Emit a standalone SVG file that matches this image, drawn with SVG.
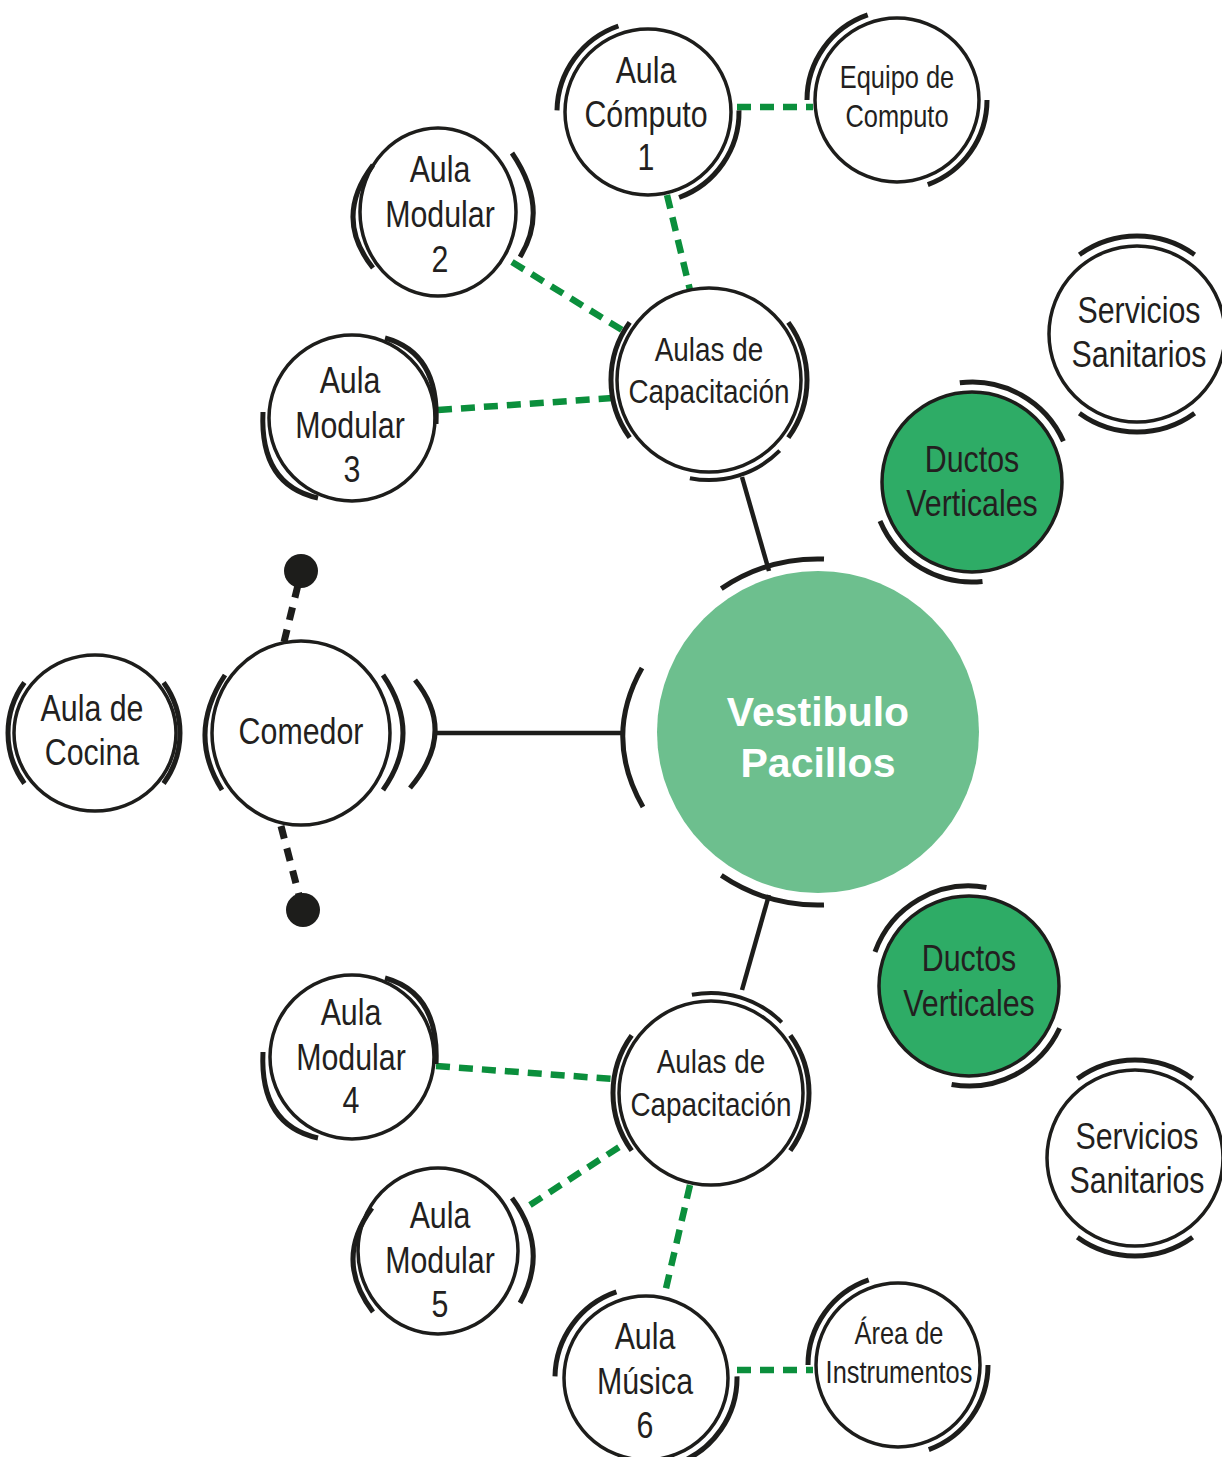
<svg xmlns="http://www.w3.org/2000/svg" width="1222" height="1457" viewBox="0 0 1222 1457">
<style>
.c{fill:#fff;stroke:#1d1d1b;stroke-width:3.5}
.g{fill:#2eac66;stroke:#1d1d1b;stroke-width:3.5}
.a{fill:none;stroke:#1d1d1b;stroke-width:5}
.t{font-family:"Liberation Sans",Arial,sans-serif;font-size:37px;fill:#231f20;text-anchor:middle}
.s{font-size:31px}
.m{font-size:34px}
.v{font-family:"Liberation Sans",Arial,sans-serif;font-weight:bold;font-size:41px;fill:#fff;text-anchor:middle}
.gd{fill:none;stroke:#0b8f3c;stroke-width:6.5;stroke-dasharray:14 9}
.bd{fill:none;stroke:#1d1d1b;stroke-width:7;stroke-dasharray:13 10}
.bl{fill:none;stroke:#1d1d1b;stroke-width:4.5}
</style>
<rect width="1222" height="1457" fill="#fff"/>
<g id="connectors">
<line class="gd" x1="737" y1="107" x2="813" y2="107"/>
<line class="gd" x1="667" y1="195" x2="690" y2="290"/>
<line class="gd" x1="512" y1="262" x2="622" y2="330"/>
<line class="gd" x1="438" y1="410" x2="613" y2="398"/>
<line class="gd" x1="436" y1="1066" x2="613" y2="1079"/>
<line class="gd" x1="530" y1="1205" x2="627" y2="1142"/>
<line class="gd" x1="690" y1="1185" x2="664" y2="1297"/>
<line class="gd" x1="737" y1="1370" x2="813" y2="1370"/>
<line class="bl" x1="742" y1="477" x2="769" y2="571"/>
<line class="bl" x1="769" y1="895" x2="742" y2="990"/>
<line class="bl" x1="434" y1="733" x2="623" y2="733"/>
<line class="bd" x1="298" y1="585" x2="284" y2="642"/>
<line class="bd" x1="281" y1="826" x2="299" y2="895"/>
<circle cx="301" cy="571" r="17" fill="#1d1d1b"/>
<circle cx="303" cy="910" r="17" fill="#1d1d1b"/>
</g>
<g id="vestibulo">
<circle cx="818" cy="732" r="161" fill="#6dbf8e"/>
<path class="a" d="M721.3,588.6 A173,173 0 0,1 824,559.1"/>
<path class="a" d="M824,904.9 A173,173 0 0,1 721.3,875.4"/>
<path class="a" d="M642,668 Q603,737 643,807"/>
<text class="v" x="818" y="726">Vestibulo</text>
<text class="v" x="818" y="777">Pacillos</text>
</g>
<g id="aula-computo-1">
<circle class="c" cx="648" cy="112" r="83"/>
<path class="a" d="M557,110.4 A91,91 0 0,1 618.4,26"/>
<path class="a" d="M739,110.4 A91,91 0 0,1 679.1,197.5"/>
<text class="t" transform="translate(646,83) scale(0.82,1)">Aula</text>
<text class="t" transform="translate(646,127) scale(0.82,1)">Cómputo</text>
<text class="t" transform="translate(646,170) scale(0.82,1)">1</text>
</g>
<g id="equipo-computo">
<circle class="c" cx="897" cy="100" r="82"/>
<path class="a" d="M807,100 A90,90 0 0,1 867.7,14.9"/>
<path class="a" d="M987,100 A90,90 0 0,1 927.8,184.6"/>
<text class="t s" transform="translate(897,88) scale(0.82,1)">Equipo de</text>
<text class="t s" transform="translate(897,127) scale(0.82,1)">Computo</text>
</g>
<g id="aulas-capacitacion-1">
<circle class="c" cx="709" cy="380" r="92"/>
<path class="a" d="M629.7,437.6 A98,98 0 0,1 629.7,322.4"/>
<path class="a" d="M788.3,322.4 A98,98 0 0,1 788.3,437.6"/>
<path class="a" style="stroke-width:4" d="M779.7,450.7 A100,100 0 0,1 689.9,478.2"/>
<text class="t m" transform="translate(709,361) scale(0.82,1)">Aulas de</text>
<text class="t m" transform="translate(709,403) scale(0.82,1)">Capacitación</text>
</g>
<g id="aula-modular-2">
<ellipse class="c" cx="438" cy="212" rx="78" ry="84"/>
<path class="a" d="M373,165 Q333,217.5 373,268"/>
<path class="a" d="M512,153 Q550,209 520,257"/>
<text class="t" transform="translate(440,182) scale(0.82,1)">Aula</text>
<text class="t" transform="translate(440,227) scale(0.82,1)">Modular</text>
<text class="t" transform="translate(440,272) scale(0.82,1)">2</text>
</g>
<g id="aula-modular-3">
<circle class="c" cx="352" cy="418" r="83"/>
<path class="a" d="M385,338 Q439.5,353 436,424"/>
<path class="a" d="M263,412 Q259.5,485 318,498"/>
<text class="t" transform="translate(350,393) scale(0.82,1)">Aula</text>
<text class="t" transform="translate(350,438) scale(0.82,1)">Modular</text>
<text class="t" transform="translate(352,482) scale(0.82,1)">3</text>
</g>
<g id="servicios-sanitarios-1">
<circle class="c" cx="1137" cy="334" r="88"/>
<path class="a" d="M1079.4,254.7 A98,98 0 0,1 1194.6,254.7"/>
<path class="a" d="M1194.6,413.3 A98,98 0 0,1 1079.4,413.3"/>
<text class="t" transform="translate(1139,323) scale(0.82,1)">Servicios</text>
<text class="t" transform="translate(1139,367) scale(0.82,1)">Sanitarios</text>
</g>
<g id="ductos-verticales-1">
<circle class="g" cx="972" cy="482" r="90"/>
<path class="a" d="M982.5,581.5 A100,100 0 0,1 880,521.1"/>
<path class="a" d="M959.8,382.8 A100,100 0 0,1 1063.4,441.3"/>
<text class="t" transform="translate(972,472) scale(0.82,1)">Ductos</text>
<text class="t" transform="translate(972,516) scale(0.82,1)">Verticales</text>
</g>
<g id="comedor">
<ellipse class="c" cx="301" cy="733" rx="89" ry="92"/>
<path class="a" d="M225,675 Q186.5,733.5 222,790"/>
<path class="a" d="M383,675 Q423,733.5 383,790"/>
<path class="a" d="M415,680 Q457.5,732 410,788"/>
<text class="t" transform="translate(301,744) scale(0.82,1)">Comedor</text>
</g>
<g id="aula-cocina">
<ellipse class="c" cx="95" cy="733" rx="81" ry="78"/>
<path class="a" d="M24.4,783.5 A86,86 0 0,1 24.4,682.5"/>
<path class="a" d="M163.6,682.5 A86,86 0 0,1 163.6,783.5"/>
<text class="t" transform="translate(92,721) scale(0.82,1)">Aula de</text>
<text class="t" transform="translate(92,765) scale(0.82,1)">Cocina</text>
</g>
<g id="ductos-verticales-2">
<circle class="g" cx="969" cy="986" r="90"/>
<path class="a" d="M875,951.8 A100,100 0 0,1 986.4,887.5"/>
<path class="a" d="M1059.6,1028.3 A100,100 0 0,1 951.6,1084.5"/>
<text class="t" transform="translate(969,971) scale(0.82,1)">Ductos</text>
<text class="t" transform="translate(969,1016) scale(0.82,1)">Verticales</text>
</g>
<g id="servicios-sanitarios-2">
<circle class="c" cx="1135" cy="1158" r="88"/>
<path class="a" d="M1077.4,1078.7 A98,98 0 0,1 1192.6,1078.7"/>
<path class="a" d="M1192.6,1237.3 A98,98 0 0,1 1077.4,1237.3"/>
<text class="t" transform="translate(1137,1149) scale(0.82,1)">Servicios</text>
<text class="t" transform="translate(1137,1193) scale(0.82,1)">Sanitarios</text>
</g>
<g id="aulas-capacitacion-2">
<circle class="c" cx="711" cy="1093" r="92"/>
<path class="a" d="M631.7,1150.6 A98,98 0 0,1 631.7,1035.4"/>
<path class="a" d="M790.3,1035.4 A98,98 0 0,1 790.3,1150.6"/>
<path class="a" style="stroke-width:4" d="M691.9,994.8 A100,100 0 0,1 781.7,1022.3"/>
<text class="t m" transform="translate(711,1073) scale(0.82,1)">Aulas de</text>
<text class="t m" transform="translate(711,1116) scale(0.82,1)">Capacitación</text>
</g>
<g id="aula-modular-4">
<circle class="c" cx="352" cy="1057" r="82"/>
<path class="a" d="M385,978 Q439.5,993 436,1064"/>
<path class="a" d="M263,1052 Q259.5,1125 318,1138"/>
<text class="t" transform="translate(351,1025) scale(0.82,1)">Aula</text>
<text class="t" transform="translate(351,1070) scale(0.82,1)">Modular</text>
<text class="t" transform="translate(351,1113) scale(0.82,1)">4</text>
</g>
<g id="aula-modular-5">
<ellipse class="c" cx="438" cy="1251" rx="80" ry="83"/>
<path class="a" d="M372,1208 Q333.5,1260 373,1312"/>
<path class="a" d="M512,1198 Q550,1249.5 520,1303"/>
<text class="t" transform="translate(440,1228) scale(0.82,1)">Aula</text>
<text class="t" transform="translate(440,1273) scale(0.82,1)">Modular</text>
<text class="t" transform="translate(440,1317) scale(0.82,1)">5</text>
</g>
<g id="aula-musica-6">
<circle class="c" cx="646" cy="1378" r="82"/>
<path class="a" d="M555,1376.4 A91,91 0 0,1 616.4,1291.9"/>
<path class="a" d="M737,1376.4 A91,91 0 0,1 677.1,1463.5"/>
<text class="t" transform="translate(645,1349) scale(0.82,1)">Aula</text>
<text class="t" transform="translate(645,1394) scale(0.82,1)">Música</text>
<text class="t" transform="translate(645,1438) scale(0.82,1)">6</text>
</g>
<g id="area-instrumentos">
<circle class="c" cx="898" cy="1365" r="82"/>
<path class="a" d="M808,1365 A90,90 0 0,1 868.7,1279.9"/>
<path class="a" d="M988,1365 A90,90 0 0,1 928.8,1449.6"/>
<text class="t s" transform="translate(899,1344) scale(0.82,1)">Área de</text>
<text class="t s" transform="translate(899,1383) scale(0.82,1)">Instrumentos</text>
</g>
</svg>
